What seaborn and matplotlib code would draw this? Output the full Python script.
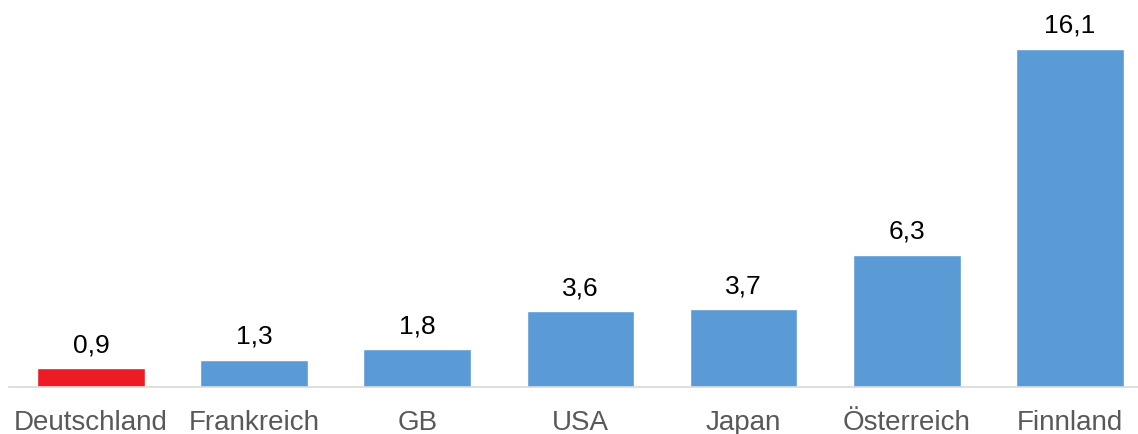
import matplotlib
matplotlib.use("Agg")
import matplotlib.pyplot as plt
import seaborn as sns
import pandas as pd

# Data
laender = ["Deutschland", "Frankreich", "GB", "USA", "Japan", "Österreich", "Finnland"]
werte = [0.9, 1.3, 1.8, 3.6, 3.7, 6.3, 16.1]
farben = ["#ED1C24", "#5B9BD5", "#5B9BD5", "#5B9BD5", "#5B9BD5", "#5B9BD5", "#5B9BD5"]

df = pd.DataFrame({"Land": laender, "Wert": werte})

sns.set_style("white")
plt.rcParams["font.family"] = ["Liberation Sans", "DejaVu Sans"]

fig = plt.figure(figsize=(11.38, 4.34), dpi=100)
ax = fig.add_axes([9.4 / 1138, 47 / 434, 1142 / 1138, 387 / 434])

sns.barplot(data=df, x="Land", y="Wert", hue="Land", palette=farben,
            width=0.66, saturation=1, legend=False, ax=ax)

ax.set_xlim(-0.5, 6.5)
ax.set_ylim(0, 18.44)
ax.set_xlabel("")
ax.set_ylabel("")
ax.set_yticks([])
for s in ["top", "right", "left"]:
    ax.spines[s].set_visible(False)
ax.spines["bottom"].set_color("#D9D9D9")
ax.spines["bottom"].set_linewidth(1.2)
ax.tick_params(axis="x", length=0, pad=16.5, labelsize=20, labelcolor="#595959")

# Value labels with decimal comma
for p, v in zip(ax.patches, werte):
    ax.annotate(f"{v:.1f}".replace(".", ","),
                (p.get_x() + p.get_width() / 2, p.get_height()),
                xytext=(0, 8), textcoords="offset points",
                ha="center", va="bottom", fontsize=19, color="#000000")

fig.savefig("out.png", dpi=100)
